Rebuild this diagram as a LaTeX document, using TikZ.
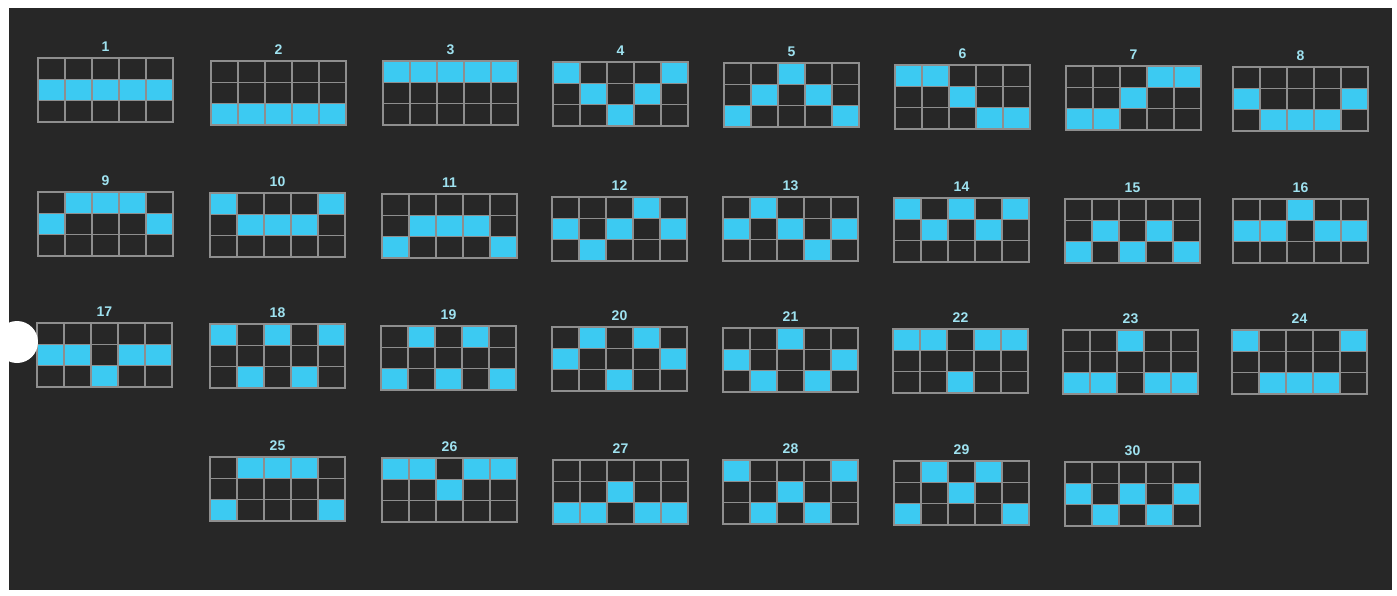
\documentclass[tikz,border=0pt]{standalone}
\usepackage{fontspec}
\setmainfont{Liberation Sans}
\definecolor{bg}{HTML}{272727}
\definecolor{cy}{HTML}{3CCAF2}
\definecolor{gridc}{HTML}{8E8E8E}
\definecolor{lbl}{HTML}{9FE2F0}
\begin{document}
\begin{tikzpicture}[x=1pt,y=-1pt,
  cellfill/.style={fill=cy},
  gridline/.style={draw=gridc,line width=1.4pt},
  lab/.style={text=lbl,font=\bfseries\fontsize{14}{14}\selectfont,inner sep=0pt}]
\useasboundingbox (0,0) rectangle (1397,595);
\fill[white] (0,0) rectangle (1397,595);
\fill[bg] (9,8) rectangle (1392,590);
\foreach \gx/\gy/\n/\a/\b/\c/\d/\e in {
38/58/1/1/1/1/1/1,
211/61/2/2/2/2/2/2,
383/61/3/0/0/0/0/0,
553/62/4/0/1/2/1/0,
724/63/5/2/1/0/1/2,
895/65/6/0/0/1/2/2,
1066/66/7/2/2/1/0/0,
1233/67/8/1/2/2/2/1,
38/192/9/1/0/0/0/1,
210/193/10/0/1/1/1/0,
382/194/11/2/1/1/1/2,
552/197/12/1/2/1/0/1,
723/197/13/1/0/1/2/1,
894/198/14/0/1/0/1/0,
1065/199/15/2/1/2/1/2,
1233/199/16/1/1/0/1/1,
37/323/17/1/1/2/1/1,
210/324/18/0/2/0/2/0,
381/326/19/2/0/2/0/2,
552/327/20/1/0/2/0/1,
723/328/21/1/2/0/2/1,
893/329/22/0/0/2/0/0,
1063/330/23/2/2/0/2/2,
1232/330/24/0/2/2/2/0,
210/457/25/2/0/0/0/2,
382/458/26/0/0/1/0/0,
553/460/27/2/2/1/2/2,
723/460/28/0/2/1/2/0,
894/461/29/2/0/1/0/2,
1065/462/30/1/2/1/2/1}{
  \draw[gridline] (\gx,\gy) rectangle ++(135,64);
  \foreach \k in {1,2,3,4}{\draw[gridline] ({\gx+\k*27},\gy) -- ++(0,64);}
  \foreach \k in {1,2}{\draw[gridline] (\gx,{\gy+\k*21.333}) -- ++(135,0);}
  \foreach \r [count=\i from 0] in {\a,\b,\c,\d,\e}{
    \fill[cellfill] ({\gx+\i*27+0.6},{\gy+\r*21.333+0.6}) rectangle ++(25.8,20.1);
  }
  \node[lab] (l\n) at ({\gx+67.5},{\gy-11}) {\n};
}
\fill[white] (17,342) circle (21pt);
\end{tikzpicture}
\end{document}
